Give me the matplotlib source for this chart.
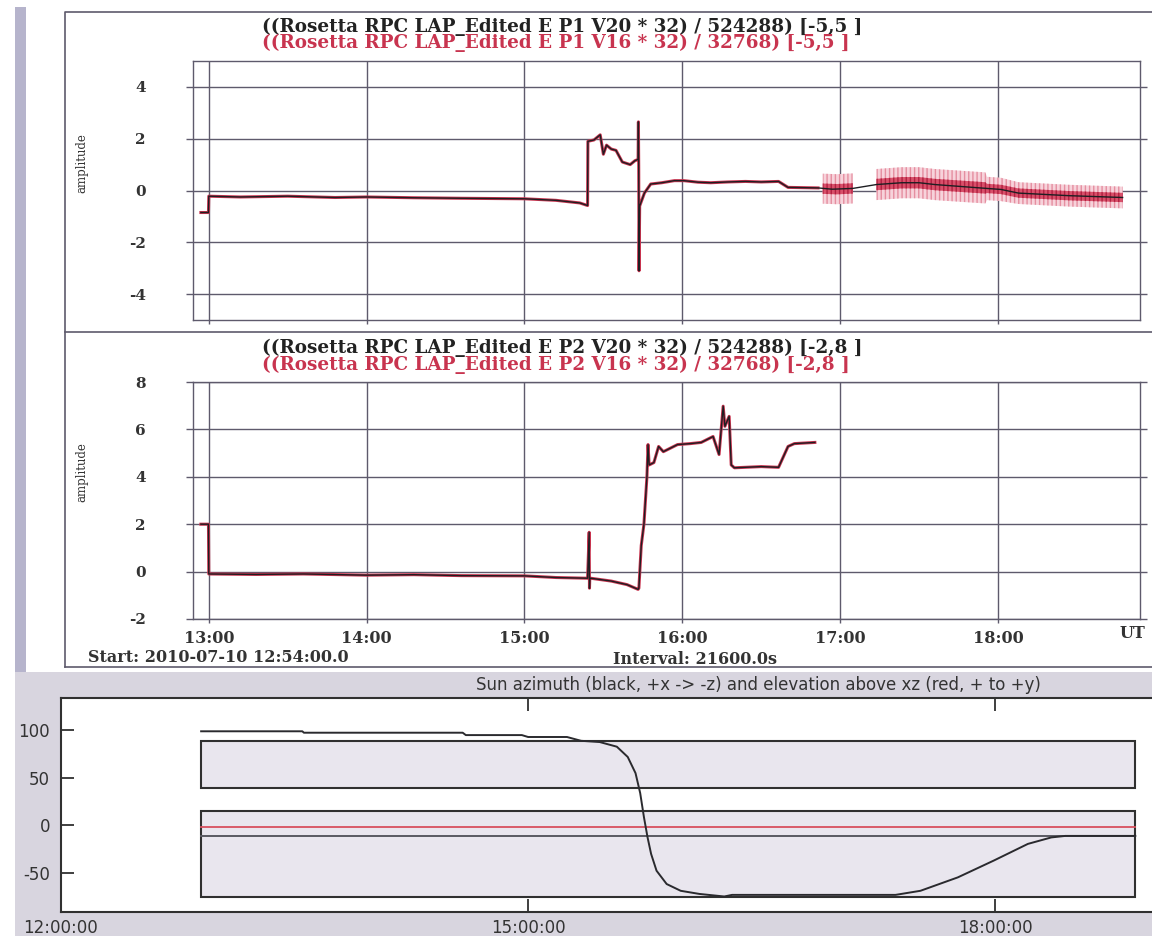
import numpy as np
import matplotlib
matplotlib.use("Agg")
import matplotlib.pyplot as plt
from matplotlib.patches import Rectangle

W, H = 1152, 936
nan = np.nan

# ---- LAP probe 1, hours UT (V20 trace; V16 follows it until P1_V16_END)
p1_time = [12.95, 12.998, 13.0, 13.2, 13.5, 13.8, 14.0, 14.3, 14.6, 15.0, 15.2,
           15.35, 15.40, 15.402, 15.44, 15.48, 15.50, 15.52, 15.55, 15.58, 15.62,
           15.67, 15.70, 15.72, 15.722, 15.724, 15.726, 15.73, 15.76, 15.80,
           15.87, 15.95, 16.01, 16.10, 16.18, 16.29, 16.40, 16.50, 16.61, 16.67,
           16.86, 16.95, 17.08, 17.23, 17.39, 17.50, 17.60, 17.93, 18.02, 18.13,
           18.45, 18.79]
p1_v20 = [-0.85, -0.85, -0.22, -0.25, -0.22, -0.27, -0.25, -0.28, -0.30, -0.32,
          -0.38, -0.48, -0.58, 1.90, 1.95, 2.15, 1.40, 1.75, 1.60, 1.55, 1.10,
          1.00, 1.15, 1.20, 2.65, 0.90, -3.10, -0.60, -0.10, 0.25, 0.30, 0.38,
          0.38, 0.32, 0.30, 0.33, 0.35, 0.33, 0.35, 0.12, 0.10, 0.05, 0.08, 0.23,
          0.30, 0.30, 0.23, 0.08, 0.04, -0.10, -0.20, -0.27]
P1_V16_END = 16.89

# noisy V16 stretches: centre, outer and inner half-spread
band_time = [16.89, 16.98, 17.08, nan, 17.23, 17.39, 17.50, 17.60, 17.92,
             17.93, 18.02, 18.13, 18.45, 18.79]
band_mid = [0.07, 0.05, 0.08, nan, 0.23, 0.30, 0.30, 0.23, 0.10,
            0.08, 0.04, -0.10, -0.20, -0.27]
band_outer = [0.58, 0.58, 0.58, nan, 0.60, 0.60, 0.60, 0.60, 0.60,
              0.45, 0.45, 0.42, 0.42, 0.42]
band_inner = [0.20, 0.20, 0.20, nan, 0.22, 0.22, 0.22, 0.22, 0.22,
              0.18, 0.18, 0.18, 0.18, 0.18]

# ---- LAP probe 2
p2_time = [12.95, 12.998, 13.0, 13.3, 13.6, 14.0, 14.3, 14.6, 15.0, 15.2, 15.40,
           15.41, 15.412, 15.414, 15.42, 15.55, 15.65, 15.72, 15.725, 15.74,
           15.757, 15.776, 15.783, 15.79, 15.82, 15.85, 15.88, 15.97, 16.05,
           16.12, 16.195, 16.233, 16.259, 16.27, 16.297, 16.31, 16.33, 16.50,
           16.61, 16.67, 16.71, 16.84]
p2_v20 = [2.0, 2.0, -0.10, -0.12, -0.10, -0.15, -0.13, -0.17, -0.18, -0.25,
          -0.28, 1.66, -0.70, -0.28, -0.28, -0.40, -0.55, -0.75, -0.70, 1.10,
          2.00, 4.00, 5.36, 4.50, 4.60, 5.28, 5.06, 5.36, 5.40, 5.45, 5.70,
          4.94, 6.98, 6.13, 6.55, 4.50, 4.38, 4.43, 4.40, 5.28, 5.40, 5.45]

# ---- Sun direction in s/c frame (degrees)
sun_time = [12.9, 13.55, 13.56, 14.58, 14.6, 14.96, 15.0, 15.25, 15.34, 15.46,
            15.57, 15.64, 15.69, 15.72, 15.744, 15.767, 15.79, 15.825, 15.89,
            15.98, 16.10, 16.26, 16.31, 16.72, 17.36, 17.52, 17.76, 17.99,
            18.21, 18.36, 18.45, 18.9]
sun_azimuth = [99, 99, 97.5, 97.5, 95, 95, 93, 93, 89, 87.7, 82.8, 72, 55, 34,
               8.8, -12.3, -29.9, -47.6, -61.6, -68.7, -72, -74.7, -73, -73,
               -73, -68.7, -54.6, -37, -19.4, -12.6, -11, -11]
elev_time = [12.9, 18.9]
sun_elevation = [-2, -2]
az_ref = -11
box_t0, box_t1 = 12.9, 18.9
box_upper = (39, 89)
box_lower = (-75, 15)

GRID = "#5e5a6c"
RED = "#c8344f"
BLACK = "#1e1e22"
SERIF = "DejaVu Serif"
SANS = "DejaVu Sans"


def px_axes(fig, x0, y0, x1, y1, **kw):
    return fig.add_axes([x0 / W, 1 - y1 / H, (x1 - x0) / W, (y1 - y0) / H], **kw)


def grid_axes(ax, ylim, yticks):
    ax.set_xlim(12.9, 18.9)
    ax.set_ylim(*ylim)
    ax.set_xticks(range(13, 19))
    ax.set_yticks(yticks)
    ax.set_yticklabels([str(v) for v in yticks], fontweight="bold")
    ax.grid(True, color=GRID, lw=1.0)
    for s in ax.spines.values():
        s.set_color(GRID)
        s.set_linewidth(1.0)
    ax.tick_params(axis="y", direction="out", length=5, width=1.0, color=GRID,
                   left=True, right=True, pad=29, labelsize=11,
                   labelfontfamily=SERIF, labelcolor="#333")
    ax.tick_params(axis="x", direction="out", length=3, width=1.0, color=GRID,
                   pad=5, labelsize=11.5, labelfontfamily=SERIF, labelcolor="#333")
    ax.set_axisbelow(True)


fig = plt.figure(figsize=(W / 100, H / 100), dpi=100, facecolor="white")

# frame decorations in pixel space
bg = fig.add_axes([0, 0, 1, 1], zorder=-5)
bg.set_xlim(0, W)
bg.set_ylim(H, 0)
bg.axis("off")
bg.add_patch(Rectangle((15, 7), 11, 670, color="#b6b4cc", lw=0))
bg.add_patch(Rectangle((15, 672), W - 15, H - 672, color="#d8d5df", lw=0))
bg.plot([65, 65, W], [667, 11.5, 11.5], color=GRID, lw=1.2)
bg.plot([65, W], [332, 332], color=GRID, lw=1.2)
bg.plot([65, W], [667, 667], color=GRID, lw=1.2)

# ---- upper panel: probe 1
ax1 = px_axes(fig, 193, 61, 1140, 320)
grid_axes(ax1, (-5, 5), [4, 2, 0, -2, -4])
ax1.tick_params(axis="x", labelbottom=False)
t1 = np.array(p1_time)
v1 = np.array(p1_v20)
keep = t1 <= P1_V16_END
bt = np.array(band_time)
bm = np.array(band_mid)
bo = np.array(band_outer)
bi = np.array(band_inner)
ax1.fill_between(bt, bm - bo, bm + bo, facecolor="#f7d3db", edgecolor="#e58ea0",
                 hatch="||||", lw=0, zorder=2)
ax1.fill_between(bt, bm - bi, bm + bi, facecolor="#d9506a", edgecolor="#b02040",
                 hatch="||||", lw=0, zorder=3)
ax1.plot(t1[keep], v1[keep], color=RED, lw=2.2, zorder=3)
ax1.plot(t1, v1, color=BLACK, lw=1.0, zorder=4)

# ---- middle panel: probe 2
ax2 = px_axes(fig, 193, 382, 1140, 619)
grid_axes(ax2, (-2, 8), [8, 6, 4, 2, 0, -2])
ax2.set_xticklabels([f"{h}:00" for h in range(13, 19)], fontweight="bold")
ax2.plot(p2_time, p2_v20, color=RED, lw=2.2, zorder=3)
ax2.plot(p2_time, p2_v20, color=BLACK, lw=1.0, zorder=4)

for y, txt in [(163, "amplitude"), (472, "amplitude")]:
    fig.text(82 / W, 1 - y / H, txt, rotation=90, ha="center", va="center",
             family=SERIF, fontsize=8.5, color="#333")

titles = [(27, "((Rosetta RPC LAP_Edited E P1 V20 * 32) / 524288) [-5,5 ]", "#222"),
          (43, "((Rosetta RPC LAP_Edited E P1 V16 * 32) / 32768) [-5,5 ]", RED),
          (348, "((Rosetta RPC LAP_Edited E P2 V20 * 32) / 524288) [-2,8 ]", "#222"),
          (365, "((Rosetta RPC LAP_Edited E P2 V16 * 32) / 32768) [-2,8 ]", RED)]
for y, txt, c in titles:
    fig.text(262 / W, 1 - y / H, txt, ha="left", va="center", family=SERIF,
             fontsize=13.2, fontweight="bold", color=c)

fig.text(1145 / W, 1 - 634 / H, "UT", ha="right", va="center", family=SERIF,
         fontsize=11.5, fontweight="bold", color="#333")
fig.text(88 / W, 1 - 657 / H, "Start: 2010-07-10 12:54:00.0", ha="left",
         va="center", family=SERIF, fontsize=11.5, fontweight="bold", color="#333")
fig.text(613 / W, 1 - 659 / H, "Interval: 21600.0s", ha="left", va="center",
         family=SERIF, fontsize=11.5, fontweight="bold", color="#333")

# ---- bottom panel: sun direction
ax3 = px_axes(fig, 61, 698, W + 2, 912)
ax3.set_facecolor("white")
ax3.set_xlim(12, 19.02)
ax3.set_ylim(-91, 134)
ax3.set_xticks([12, 15, 18])
ax3.set_xticklabels(["12:00:00", "15:00:00", "18:00:00"])
ax3.set_yticks([-50, 0, 50, 100])
ax3.set_yticklabels(["-50", "0", "50", "100"])
for name, s in ax3.spines.items():
    s.set_color("#303030")
    s.set_linewidth(1.5)
ax3.spines["right"].set_visible(False)
ax3.tick_params(direction="in", length=9.5, width=1.3, color="#303030",
                top=True, labelsize=12, labelfontfamily=SANS, labelcolor="#333")
ax3.tick_params(axis="x", pad=5)
ax3.tick_params(axis="y", pad=8)
for lo, hi in (box_upper, box_lower):
    ax3.add_patch(Rectangle((box_t0, lo), box_t1 - box_t0, hi - lo,
                            facecolor="#e9e6ee", edgecolor="#303030", lw=1.5,
                            zorder=1))
ax3.plot([box_t0, box_t1], [az_ref, az_ref], color="#5a5a62", lw=1.4, zorder=2)
ax3.plot(elev_time, sun_elevation, color="#d8505e", lw=1.3, zorder=3)
ax3.plot(sun_time, sun_azimuth, color="#2a2a2e", lw=1.4, zorder=4)

fig.text(758 / W, 1 - 685 / H,
         "Sun azimuth (black, +x -> -z) and elevation above xz (red, + to +y)",
         ha="center", va="center", family=SANS, fontsize=12, color="#333")

fig.savefig("out.png", dpi=100, facecolor="white")
